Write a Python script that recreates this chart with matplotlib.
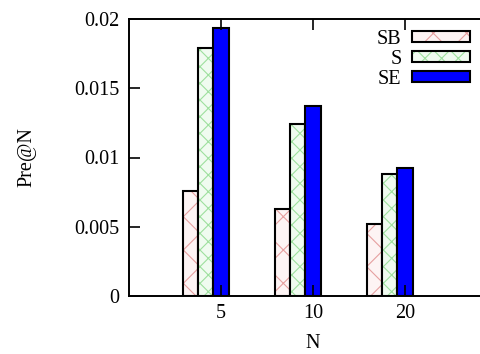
import matplotlib
matplotlib.use("Agg")
import matplotlib.pyplot as plt
import numpy as np
from matplotlib.legend_handler import HandlerTuple

# data
groups = ["5", "10", "20"]
series = ["SB", "S", "SE"]
sb_vals = [0.00758, 0.00628, 0.00520]
s_vals = [0.01788, 0.01242, 0.00879]
se_vals = [0.01935, 0.01372, 0.00926]

plt.rcParams['font.family'] = ['Liberation Serif', 'DejaVu Serif']
plt.rcParams['hatch.linewidth'] = 0.8

fig = plt.figure(figsize=(4.81, 3.54), dpi=100)
ax = fig.add_axes([129 / 481, 1 - 296 / 354, 368 / 481, 277 / 354])

x = np.arange(1, len(groups) + 1)
w = 0.167
offsets = [-2 * w, -w, 0]
faces = ["#fdf4f4", "#f0fbf0", "#0000ff"]
hatches = ["x", "xx", None]
hatchcols = ["#e6a0a0", "#9ee09e", "#0000ff"]

handles = []
for vals, off, fc, h, hc in zip([sb_vals, s_vals, se_vals], offsets,
                                faces, hatches, hatchcols):
    # hatch layer, then black outline on top
    ax.bar(x + off, vals, w, color=fc, edgecolor=hc, hatch=h, linewidth=0)
    ax.bar(x + off, vals, w, facecolor="none", edgecolor="black", linewidth=1.5)
    inner = plt.Rectangle((0, 0), 1, 1, facecolor=fc, edgecolor=hc,
                          hatch=h, linewidth=0)
    outer = plt.Rectangle((0, 0), 1, 1, facecolor="none", edgecolor="black",
                          linewidth=1.5)
    handles.append((inner, outer))

ax.set_xlim(0, 4)
ax.set_ylim(0, 0.02)
ax.set_xticks(x)
ax.set_xticklabels(groups)
ax.set_yticks([0, 0.005, 0.01, 0.015, 0.02])
ax.set_yticklabels(["0", "0.005", "0.01", "0.015", "0.02"])
ax.tick_params(direction="in", length=8, width=1.2, labelsize=14.5,
               top=True, right=True)
ax.tick_params(axis="y", pad=7)
ax.tick_params(axis="x", pad=6)
for sp in ax.spines.values():
    sp.set_linewidth(1.4)

ax.set_xlabel("N", fontsize=14.5, labelpad=7.5)
ax.set_ylabel("Pre@N", fontsize=14.5, labelpad=27)

leg = ax.legend(handles, series, loc="upper right",
                bbox_to_anchor=(470 / 481, 1 - 30 / 354),
                bbox_transform=fig.transFigure,
                handler_map={tuple: HandlerTuple(ndivide=1, pad=0)},
                frameon=False, markerfirst=False, handlelength=2.9,
                handleheight=0.45, fontsize=14.5, labelspacing=0.05,
                handletextpad=0.5, borderaxespad=0, borderpad=0)
for t in leg.get_texts():
    t.set_ha("right")

fig.savefig("out.png", dpi=100)
